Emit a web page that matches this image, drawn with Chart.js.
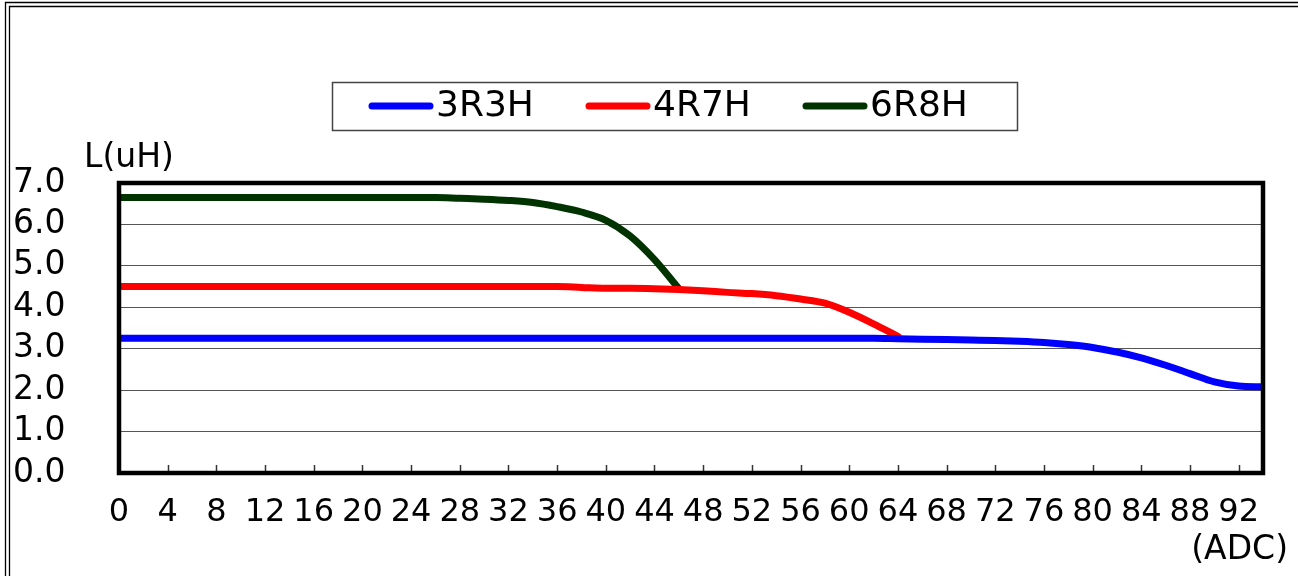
<!DOCTYPE html>
<html>
<head>
<meta charset="utf-8">
<script src="https://cdn.jsdelivr.net/npm/chart.js@4.4.0/dist/chart.umd.min.js"></script>
<style>
  html, body { margin: 0; padding: 0; background: #fff; }
  canvas { display: block; }
</style>
</head>
<body>
<canvas id="inductanceChart" width="1298" height="576"></canvas>
<script>
// ADC current steps (x) and inductance readings L(uH) per part
const adcValues = [0, 2, 4, 6, 8, 10, 12, 14, 16, 18, 20, 22, 24, 26, 28, 30,
    32, 34, 36, 38, 40, 42, 44, 46, 48, 50, 52, 54, 56, 58, 60, 62,
    64, 66, 68, 70, 72, 74, 76, 78, 80, 82, 84, 86, 88, 90, 92, 94];

const l3R3H = [3.25, 3.25, 3.25, 3.25, 3.25, 3.25, 3.25, 3.25, 3.25, 3.25, 3.25, 3.25, 3.25, 3.25, 3.25, 3.25,
    3.25, 3.25, 3.25, 3.25, 3.25, 3.25, 3.25, 3.25, 3.25, 3.25, 3.25, 3.25, 3.25, 3.25, 3.25, 3.25,
    3.24, 3.23, 3.22, 3.21, 3.2, 3.18, 3.15, 3.1, 3.03, 2.92, 2.78, 2.6, 2.4, 2.2, 2.1, 2.08];

const l4R7H = [4.5, 4.5, 4.5, 4.5, 4.5, 4.5, 4.5, 4.5, 4.5, 4.5, 4.5, 4.5, 4.5, 4.5, 4.5, 4.5,
    4.5, 4.5, 4.5, 4.48, 4.46, 4.46, 4.45, 4.43, 4.4, 4.36, 4.33, 4.28, 4.2, 4.1, 3.88, 3.6,
    3.3, null, null, null, null, null, null, null, null, null, null, null, null, null, null, null];

const l6R8H = [6.65, 6.65, 6.65, 6.65, 6.65, 6.65, 6.65, 6.65, 6.65, 6.65, 6.65, 6.65, 6.65, 6.65, 6.63, 6.61,
    6.58, 6.53, 6.43, 6.3, 6.1, 5.72, 5.15, 4.45, null, null, null, null, null, null, null, null,
    null, null, null, null, null, null, null, null, null, null, null, null, null, null, null, null];

const seriesNames = ["3R3H", "4R7H", "6R8H"];
const seriesColors = ["#0000ff", "#ff0000", "#003300"];
const xTickValues = [0, 4, 8, 12, 16, 20, 24, 28, 32, 36, 40, 44, 48, 52, 56, 60, 64, 68, 72, 76, 80, 84, 88, 92];
const yTitle = "L(uH)";
const xTitle = "(ADC)";

const FONT = '"DejaVu Sans", Arial, sans-serif';

function toPoints(values) {
    return adcValues.map((x, i) => ({ x: x, y: values[i] }));
}

const extras = {
    id: "extras",
    afterDraw(chart) {
        const ctx = chart.ctx;
        const area = chart.chartArea;
        const xScale = chart.scales.x;

        ctx.save();

        // small tick marks inside the plot, along the bottom
        ctx.strokeStyle = "#333";
        ctx.lineWidth = 1.5;
        xTickValues.forEach(v => {
            const px = Math.round(xScale.getPixelForValue(v)) + 0.5;
            ctx.beginPath();
            ctx.moveTo(px, area.bottom);
            ctx.lineTo(px, area.bottom - 8);
            ctx.stroke();
        });

        // heavy plot frame
        ctx.strokeStyle = "#000";
        ctx.lineWidth = 4.5;
        ctx.strokeRect(area.left, area.top, area.right - area.left, area.bottom - area.top);

        // double border of the picture (top and left)
        ctx.lineWidth = 1.3;
        ctx.beginPath();
        ctx.moveTo(5.5, chart.height);
        ctx.lineTo(5.5, 2.5);
        ctx.lineTo(chart.width, 2.5);
        ctx.moveTo(9.5, chart.height);
        ctx.lineTo(9.5, 6.5);
        ctx.lineTo(chart.width, 6.5);
        ctx.stroke();

        // axis titles
        ctx.fillStyle = "#000";
        ctx.font = "33px " + FONT;
        ctx.textBaseline = "alphabetic";
        ctx.textAlign = "left";
        ctx.fillText(yTitle, 84, 167);
        ctx.textAlign = "right";
        ctx.fillText(xTitle, 1288, 559);

        // legend box
        ctx.strokeStyle = "#444";
        ctx.lineWidth = 1.5;
        ctx.strokeRect(332.5, 82.5, 685, 48);
        ctx.font = "36px " + FONT;
        ctx.textAlign = "left";
        ctx.textBaseline = "middle";
        chart.data.datasets.forEach((ds, i) => {
            const x0 = 372 + i * 217;
            ctx.strokeStyle = ds.borderColor;
            ctx.lineWidth = 7;
            ctx.lineCap = "round";
            ctx.beginPath();
            ctx.moveTo(x0, 106);
            ctx.lineTo(x0 + 58, 106);
            ctx.stroke();
            ctx.fillStyle = "#000";
            ctx.fillText(ds.label, x0 + 64, 107);
        });

        ctx.restore();
    }
};

new Chart(document.getElementById("inductanceChart"), {
    type: "line",

    data: {
        datasets: seriesNames.map((name, i) => ({
            label: name,
            data: toPoints([l3R3H, l4R7H, l6R8H][i]),
            borderColor: seriesColors[i],
            borderWidth: 7,
            borderCapStyle: "round",
            borderJoinStyle: "round",
            cubicInterpolationMode: "monotone",
            pointRadius: 0,
            spanGaps: false,
            fill: false
        }))
    },

    options: {
        responsive: false,
        animation: false,
        layout: {
            padding: { left: 13, top: 183, right: 35, bottom: 43 }
        },
        plugins: {
            legend: { display: false },
            tooltip: { enabled: false }
        },
        scales: {
            x: {
                type: "linear",
                min: 0,
                max: 94,
                afterBuildTicks: scale => {
                    scale.ticks = xTickValues.map(v => ({ value: v }));
                },
                afterFit: scale => { scale.height = 60; },
                grid: { display: false, drawTicks: false },
                border: { display: false },
                ticks: {
                    autoSkip: false,
                    maxRotation: 0,
                    padding: 20,
                    color: "#000",
                    font: { family: FONT, size: 32 }
                }
            },
            y: {
                min: 0,
                max: 7,
                afterFit: scale => { scale.width = 106; },
                grid: { color: "#555", lineWidth: 1, drawTicks: false },
                border: { display: false },
                ticks: {
                    stepSize: 1,
                    autoSkip: false,
                    crossAlign: "far",
                    padding: 0,
                    color: "#000",
                    font: { family: FONT, size: 33 },
                    callback: v => v.toFixed(1)
                }
            }
        }
    },

    plugins: [extras]
});
</script>
</body>
</html>
